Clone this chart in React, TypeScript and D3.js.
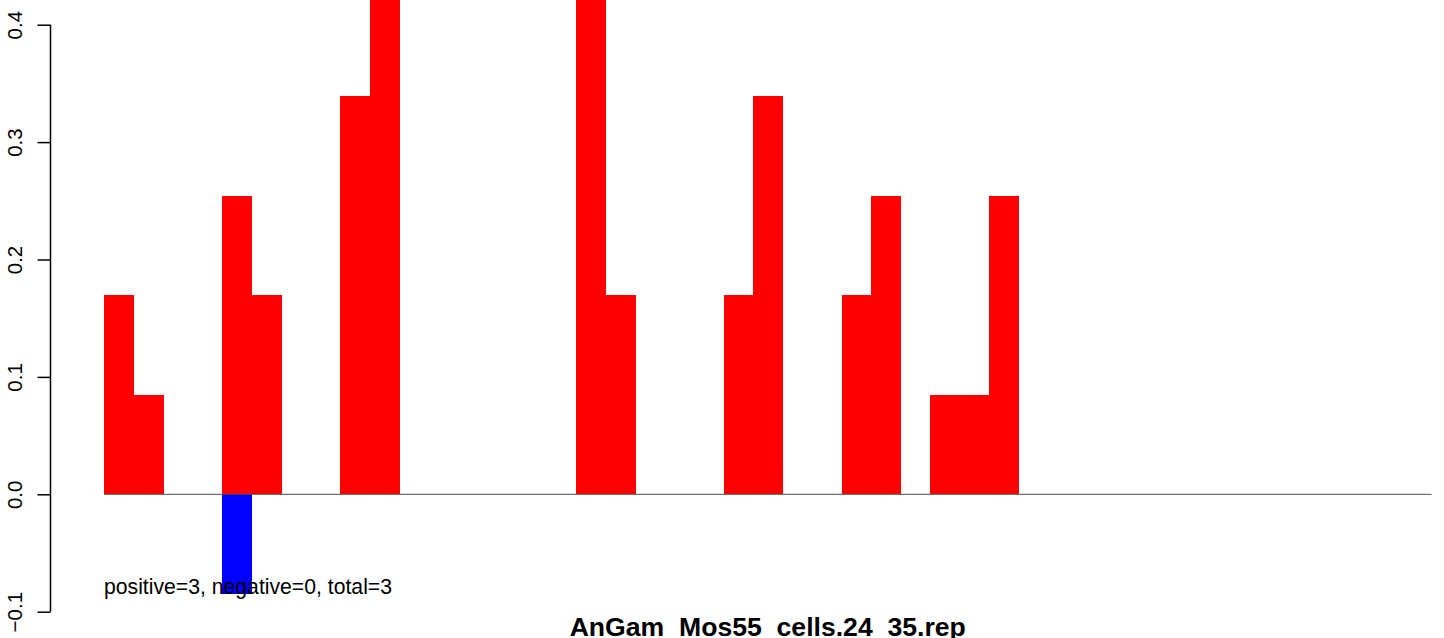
import React, { useEffect, useRef } from "react";
import * as d3 from "d3";

// 45 bins
const bins: number[] = d3.range(45);
const positiveValues: number[] = [
  0.17, 0.085, 0, 0, 0.254, 0.17, 0, 0, 0.339, 0.5,
  0, 0, 0, 0, 0, 0, 0.5, 0.17, 0, 0,
  0, 0.17, 0.339, 0, 0, 0.17, 0.254, 0, 0.085, 0.085,
  0.254, 0, 0, 0, 0, 0, 0, 0, 0, 0,
  0, 0, 0, 0, 0,
];
const negativeValues: number[] = [
  0, 0, 0, 0, -0.085, 0, 0, 0, 0, 0,
  0, 0, 0, 0, 0, 0, 0, 0, 0, 0,
  0, 0, 0, 0, 0, 0, 0, 0, 0, 0,
  0, 0, 0, 0, 0, 0, 0, 0, 0, 0,
  0, 0, 0, 0, 0,
];
const yTicks: number[] = [-0.1, 0.0, 0.1, 0.2, 0.3, 0.4];
const titleText = "AnGam_Mos55_cells.24_35.rep";
const summaryText = "positive=3, negative=0, total=3";

const W = 1444;
const H = 638;
const FONT = "'Liberation Sans', Arial, Helvetica, sans-serif";

export default function App() {
  const axisRef = useRef<SVGGElement>(null);

  const x = d3.scaleBand<number>().domain(bins).range([104, 1431.5]).padding(0);
  const y = d3.scaleLinear().domain([-0.1, 0.4]).range([611.7, 24.7]);

  useEffect(() => {
    if (!axisRef.current) return;
    const g = d3.select(axisRef.current);
    g.selectAll("*").remove();
    const axis = d3
      .axisLeft(y)
      .tickValues(yTicks)
      .tickSize(13)
      .tickPadding(0)
      .tickFormat((d) => {
        const v = d as number;
        const s = d3.format(".1f")(Math.abs(v) < 1e-9 ? 0 : v);
        return s.replace("-", "\u2212");
      });
    g.call(axis as any);
    g.select(".domain")
      .attr("d", `M0,${y(0.4)}V${y(-0.1)}`)
      .attr("stroke", "#000")
      .attr("stroke-width", 1.5)
      .attr("fill", "none");
    g.selectAll(".tick line").attr("stroke", "#000").attr("stroke-width", 1.5);
    g.selectAll(".tick text")
      .attr("x", null)
      .attr("dy", null)
      .attr("transform", "translate(-28.5,0) rotate(-90)")
      .attr("text-anchor", "middle")
      .attr("fill", "#000")
      .style("font-family", FONT)
      .style("font-size", "20.5px");
  }, []);

  const bw = x.bandwidth();

  return (
    <svg
      width={W}
      height={H}
      style={{ position: "absolute", left: 0, top: 0, display: "block", background: "#fff" }}
    >
      <rect x={0} y={0} width={W} height={H} fill="#fff" />
      <g shapeRendering="crispEdges">
        {bins.map((b, i) =>
          positiveValues[i] > 0 ? (
            <rect
              key={"p" + b}
              x={x(b)!}
              y={y(positiveValues[i])}
              width={bw + 0.6}
              height={y(0) - y(positiveValues[i])}
              fill="#ff0000"
            />
          ) : null
        )}
        {bins.map((b, i) =>
          negativeValues[i] < 0 ? (
            <rect
              key={"n" + b}
              x={x(b)!}
              y={y(0)}
              width={bw}
              height={y(negativeValues[i]) - y(0)}
              fill="#0000ff"
            />
          ) : null
        )}
      </g>
      <line
        x1={x(bins[0])!}
        x2={x(bins[bins.length - 1])! + bw}
        y1={y(0)}
        y2={y(0)}
        stroke="#4d4d4d"
        strokeWidth={1}
      />
      <g ref={axisRef} transform="translate(50.5,0)" />
      <text
        x={104}
        y={594}
        fontFamily={FONT}
        fontSize={21.2}
        fill="#000"
      >
        {summaryText}
      </text>
      <text
        x={(x(bins[0])! + x(bins[bins.length - 1])! + bw) / 2}
        y={636}
        textAnchor="middle"
        fontFamily={FONT}
        fontSize={26.6}
        fontWeight="bold"
        fill="#000"
      >
        {titleText}
      </text>
    </svg>
  );
}
